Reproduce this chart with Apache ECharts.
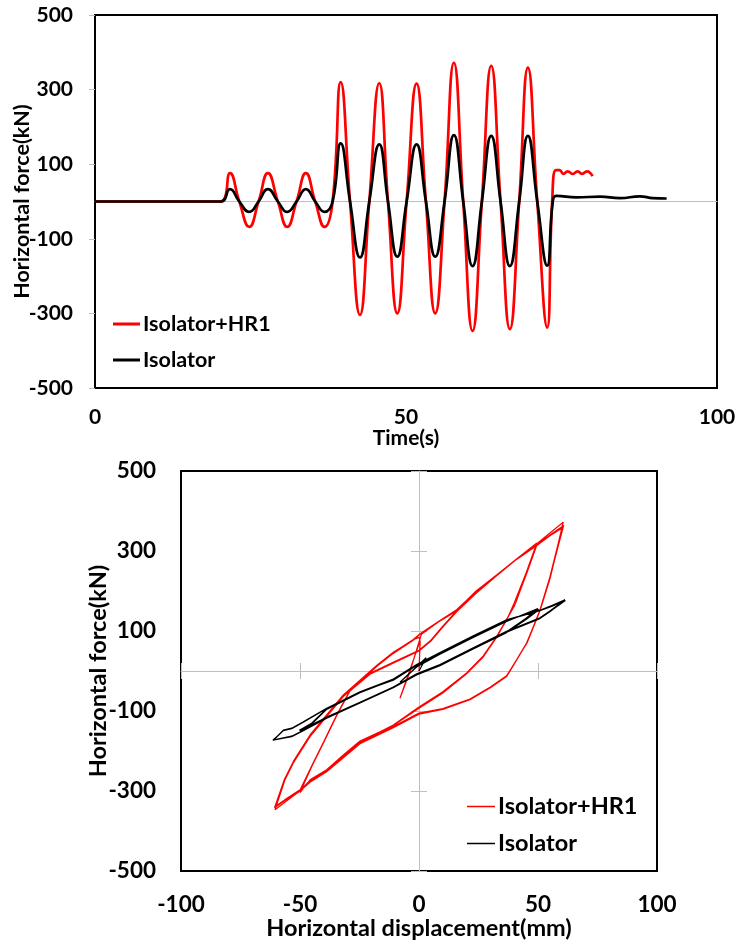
<!DOCTYPE html>
<html>
<head>
<meta charset="utf-8">
<script src="https://cdn.jsdelivr.net/npm/echarts@6/dist/echarts.min.js"></script>
<style>
html,body{margin:0;padding:0;background:#fff;}
#chart{width:737px;height:944px;}
</style>
</head>
<body>
<div id="chart"></div>
<script>
// ---------- Top chart: force time history ----------
const timeRed = [0, 20.2, 21.7, 23.2, 24.8, 26.3, 27.8, 29.4, 30.9, 32.4, 33.9, 35.4, 36.9, 38.2, 39.5, 41.0, 42.6, 44.1, 45.7, 47.1, 48.6, 50.1, 51.7, 53.2, 54.7, 56.2, 57.7, 59.2, 60.7, 62.2, 63.7, 65.2, 66.7, 68.2, 69.6, 71.1, 72.7, 73.5, 74.1, 74.7, 75.3, 76.0, 76.8, 77.6, 78.3, 79.1, 80.0];
const forceRed = [0, 0, 76, 0, -68, 0, 76, 0, -68, 0, 76, 0, -68, 0, 320, 0, -304, 0, 317, 0, -300, 0, 316, 0, -300, 0, 372, 0, -347, 0, 364, 0, -342, 0, 359, 0, -338, 0, 84, 84, 74, 81, 74, 81, 74, 81, 68];
const timeBlack = [0, 20.2, 21.7, 23.2, 24.8, 26.3, 27.8, 29.4, 30.9, 32.4, 33.9, 35.4, 36.9, 38.2, 39.5, 41.0, 42.6, 44.1, 45.7, 47.1, 48.6, 50.1, 51.7, 53.2, 54.7, 56.2, 57.7, 59.2, 60.7, 62.2, 63.7, 65.2, 66.7, 68.2, 69.6, 71.1, 72.7, 73.6, 74.2, 77.4, 81.2, 84.4, 87.6, 89.7, 91.9];
const forceBlack = [0, 0, 33, 0, -28, 0, 33, 0, -28, 0, 33, 0, -28, 0, 156, 0, -150, 0, 153, 0, -148, 0, 153, 0, -148, 0, 178, 0, -173, 0, 176, 0, -173, 0, 176, 0, -172, 0, 15, 11, 13, 9, 14, 9, 8];

// ---------- Bottom chart: hysteresis loops ----------
const dispRed = [
  0, 0.5, -8, 0.5, -8, 0.5, -8,
  -4, 1, 8, 15.8, 24, 32.6, 41, 49.5,
  45, 40, 36.8, 32.6, 27, 20, 10, 0, -10.8, -16.4, -24.8, -31.8, -38.8, -45.8, -50,
  -45, -40, -34.6, -29, -20.6, -10, 0, 5, 10, 15.8, 24, 32.6, 41, 49.4,
  45, 40.5, 36.5, 32.4, 27, 20, 10, 0, -10.8, -16.4, -24.8, -31.8, -38.8, -45.8, -50.2,
  -45, -40, -34.6, -29, -20.6, -10, 0, 5, 10, 15.8, 24, 32.6, 41, 49.6,
  45.2, 40.2, 36.8, 32.8, 27, 20, 10, 0, -10.8, -16.4, -24.8, -31.8, -38.8, -45.8, -50,
  -45, -40, -34.6, -29, -20.6, -10, 0, 5, 10, 15.8, 24, 32.6, 41, 49.5, 55, 60.6,
  58.5, 55, 50.8, 45.2, 41, 36.8, 30, 21.4, 10, 0, -10.8, -24.8, -31.8, -38.8, -45.8, -50, -55, -60.5,
  -56.3, -52.8, -45.8, -38.8, -31.8, -24.8, -17.8, -10.8, -2.4, 0, 8, 15.8, 24, 32.6, 41, 49.4, 55, 60.8,
  58.6, 55, 50.8, 45.4, 41, 36.8, 30, 21.4, 10, 0, -10.8, -24.8, -31.8, -38.8, -45.8, -50, -55, -60.7,
  -56.5, -52.8, -45.8, -38.8, -31.8, -24.8, -17.8, -10.8, -2.4, 0, 8, 15.8, 24, 32.6, 41, 49.4, 55, 60.5,
  58.4, 55, 50.8, 45.2, 41, 36.8, 30, 21.4, 10, 0, -10.8, -24.8, -31.8, -38.8, -45.8, -50, -55, -60.3,
  -56.3, -52.8, -45.8, -38.8, -31.8, -24.8, -17.8, -10.8, -2.4, 0, 0.4, 0, 0.4
];
const hystForceRed = [
  0, 76, -68, 76, -68, 76, -68,
  -5, 92, 122, 150, 196, 238, 280, 320,
  245, 170, 127, 86, 38, -5, -52, -90, -135, -152, -175, -210, -247, -272, -304,
  -238, -178, -112, -50, -8, 22, 50, 75, 110, 148, 194, 238, 279, 317,
  242, 168, 126, 84, 36, -6, -54, -92, -137, -153, -176, -212, -248, -274, -300,
  -236, -176, -110, -48, -6, 24, 52, 77, 112, 150, 195, 239, 280, 316,
  243, 164, 128, 86, 35, -7, -55, -93, -136, -152, -175, -211, -247, -273, -300,
  -236, -176, -110, -48, -6, 24, 52, 77, 112, 150, 195, 239, 280, 318, 345, 372,
  319, 235, 152, 69, 27, -14, -42, -72, -96, -108, -142, -182, -217, -252, -278, -300, -322, -347,
  -272, -230, -164, -114, -64, -27, 11, 44, 77, 90, 122, 152, 200, 240, 280, 315, 340, 364,
  315, 232, 150, 70, 28, -12, -40, -70, -95, -106, -140, -180, -215, -250, -276, -298, -318, -342,
  -270, -228, -162, -112, -62, -25, 13, 46, 79, 91, 123, 153, 199, 239, 279, 313, 338, 359,
  312, 230, 150, 70, 28, -12, -40, -70, -94, -105, -139, -179, -214, -249, -275, -297, -316, -338,
  -268, -226, -160, -110, -60, -23, 14, 47, 78, 84, 77, 84, 78
];
const dispBlack = [
  0, 3, -8, 3, -8, 3, -8,
  -1, 8.8, 22.8, 36.8, 50,
  45, 36.8, 22.8, 8.8, -1, -10.8, -24.8, -38.8, -45, -50,
  -45, -38.8, -24.8, -10.8, -1, 8.8, 22.8, 36.8, 50.2,
  45, 36.8, 22.8, 8.8, -1, -10.8, -24.8, -38.8, -45, -50.3,
  -45, -38.8, -24.8, -10.8, -1, 8.8, 22.8, 36.8, 50.4,
  45, 36.8, 22.8, 8.8, -1, -10.8, -24.8, -38.8, -45, -50.2,
  -45, -38.8, -24.8, -10.8, -1, 8.8, 22.8, 36.8, 50.8, 56, 61.3,
  55, 50.8, 36.8, 22.8, 8.8, -1, -10.8, -24.8, -38.8, -48.6, -53.5, -61.2,
  -57, -53.5, -48.6, -38.8, -24.8, -10.8, -1, 8.8, 22.8, 36.8, 50.8, 56, 61.5,
  55, 50.8, 36.8, 22.8, 8.8, -1, -10.8, -24.8, -38.8, -48.6, -53.5, -61.4,
  -57, -53.5, -48.6, -38.8, -24.8, -10.8, -1, 8.8, 22.8, 36.8, 50.8, 56, 61.2,
  55, 50.8, 36.8, 22.8, 8.8, -1, -10.8, -24.8, -38.8, -48.6, -53.5, -61.0,
  -57, -53.5, -48.6, -38.8, -24.8, -10.8, -2
];
const hystForceBlack = [
  0, 33, -28, 33, -28, 33, -28,
  10, 42, 84, 124, 156,
  132, 98, 57, 15, -8, -40, -78, -115, -135, -150,
  -132, -96, -54, -22, 14, 44, 86, 126, 153,
  130, 97, 56, 14, -9, -41, -79, -116, -134, -148,
  -131, -95, -53, -21, 15, 45, 87, 127, 153,
  129, 96, 55, 13, -10, -42, -80, -117, -135, -148,
  -130, -94, -52, -20, 16, 46, 88, 128, 152, 164, 178,
  150, 133, 99, 58, 16, -7, -40, -78, -116, -148, -163, -173,
  -148, -143, -127, -93, -52, -22, 15, 45, 87, 128, 152, 163, 176,
  149, 132, 98, 57, 15, -8, -41, -79, -117, -149, -164, -173,
  -149, -144, -128, -94, -53, -23, 14, 44, 86, 127, 151, 162, 176,
  148, 131, 97, 56, 14, -9, -42, -80, -118, -149, -163, -172,
  -149, -144, -128, -94, -53, -23, 12
];

const forceTickValues = [-500, -300, -100, 100, 300, 500];
const crossForceTicks = [-500, -300, -100, 100, 300, 500];
const crossDispTicks = [-100, -50, 50, 100];

const zip = (a, b) => a.map((v, i) => [v, b[i]]);

const FONT = 'Lato';
const GREY = '#bfbfbf';
const lbl = (size, margin) => ({ fontFamily: FONT, fontWeight: 'bold', fontSize: size, color: '#000', margin: margin });

const chart = echarts.init(document.getElementById('chart'), null, { renderer: 'canvas' });

chart.setOption({
  animation: false,
  backgroundColor: '#fff',
  grid: [
    { left: 95, top: 15, width: 622, height: 373, show: true, borderColor: '#000', borderWidth: 2, backgroundColor: 'transparent', containLabel: false, outerBoundsMode: 'none' },
    { left: 181, top: 471, width: 476, height: 400, show: true, borderColor: '#000', borderWidth: 2, backgroundColor: 'transparent', containLabel: false, outerBoundsMode: 'none' }
  ],
  xAxis: [
    { // 0 top main
      type: 'value', gridIndex: 0, position: 'bottom', min: 0, max: 100, interval: 50,
      axisLine: { show: false, onZero: false }, axisTick: { show: false }, splitLine: { show: false },
      axisLabel: lbl(21, 19),
      name: 'Time(s)', nameLocation: 'middle', nameGap: 40, nameMoveOverlap: false,
      nameTextStyle: { fontFamily: FONT, fontWeight: 'bold', fontSize: 21, color: '#000', padding: [0, 0, 0, 0] }
    },
    { // 1 top zero line
      type: 'value', gridIndex: 0, position: 'bottom', min: 0, max: 100,
      axisLine: { show: true, onZero: true, onZeroAxisIndex: 0, lineStyle: { color: GREY, width: 1 } },
      axisTick: { show: false }, axisLabel: { show: false }, splitLine: { show: false }
    },
    { // 2 bottom main
      type: 'value', gridIndex: 1, position: 'bottom', min: -100, max: 100, interval: 50,
      axisLine: { show: false, onZero: false }, axisTick: { show: false }, splitLine: { show: false },
      axisLabel: lbl(22.5, 22),
      name: 'Horizontal displacement(mm)', nameLocation: 'middle', nameGap: 45, nameMoveOverlap: false,
      nameTextStyle: { fontFamily: FONT, fontWeight: 'bold', fontSize: 23.5, color: '#000' }
    },
    { // 3 bottom cross line, ticks down
      type: 'value', gridIndex: 1, position: 'bottom', min: -100, max: 100,
      axisLine: { show: true, onZero: true, onZeroAxisIndex: 1, lineStyle: { color: GREY, width: 1 } },
      axisTick: { show: true, customValues: crossDispTicks, length: 8, inside: false, lineStyle: { color: GREY, width: 1 } },
      axisLabel: { show: false }, splitLine: { show: false }
    },
    { // 4 bottom cross line, ticks up
      type: 'value', gridIndex: 1, position: 'bottom', min: -100, max: 100,
      axisLine: { show: false, onZero: true, onZeroAxisIndex: 1 },
      axisTick: { show: true, customValues: crossDispTicks, length: 8, inside: true, lineStyle: { color: GREY, width: 1 } },
      axisLabel: { show: false }, splitLine: { show: false }
    }
  ],
  yAxis: [
    { // 0 top main
      type: 'value', gridIndex: 0, position: 'left', min: -500, max: 500, interval: 100,
      axisLine: { show: true, onZero: false, lineStyle: { color: '#000', width: 2 } },
      axisTick: { show: true, customValues: forceTickValues, length: 6, lineStyle: { color: GREY, width: 1 } },
      splitLine: { show: false },
      axisLabel: Object.assign(lbl(21, 22), { customValues: forceTickValues }),
      name: 'Horizontal force(kN)', nameLocation: 'middle', nameGap: 62, nameMoveOverlap: false,
      nameTextStyle: { fontFamily: FONT, fontWeight: 'bold', fontSize: 21.5, color: '#000' }
    },
    { // 1 bottom main
      type: 'value', gridIndex: 1, position: 'left', min: -500, max: 500, interval: 100,
      axisLine: { show: false, onZero: false }, axisTick: { show: false }, splitLine: { show: false },
      axisLabel: Object.assign(lbl(22.5, 25), { customValues: forceTickValues }),
      name: 'Horizontal force(kN)', nameLocation: 'middle', nameGap: 71, nameMoveOverlap: false,
      nameTextStyle: { fontFamily: FONT, fontWeight: 'bold', fontSize: 23.5, color: '#000' }
    },
    { // 2 bottom cross line, ticks left
      type: 'value', gridIndex: 1, position: 'left', min: -500, max: 500,
      axisLine: { show: true, onZero: true, onZeroAxisIndex: 2, lineStyle: { color: GREY, width: 1 } },
      axisTick: { show: true, customValues: crossForceTicks, length: 8, inside: false, lineStyle: { color: GREY, width: 1 } },
      axisLabel: { show: false }, splitLine: { show: false }
    },
    { // 3 bottom cross line, ticks right
      type: 'value', gridIndex: 1, position: 'left', min: -500, max: 500,
      axisLine: { show: false, onZero: true, onZeroAxisIndex: 2 },
      axisTick: { show: true, customValues: crossForceTicks, length: 8, inside: true, lineStyle: { color: GREY, width: 1 } },
      axisLabel: { show: false }, splitLine: { show: false }
    }
  ],
  legend: [
    {
      orient: 'vertical', left: 113, top: 312, itemWidth: 27, itemHeight: 3, itemGap: 12, padding: 0,
      icon: 'rect', selectedMode: false,
      data: ['Isolator+HR1', 'Isolator'],
      textStyle: { fontFamily: FONT, fontWeight: 'bold', fontSize: 21.5, color: '#000', lineHeight: 24, padding: [0, 0, 0, -2] }
    },
    {
      orient: 'vertical', left: 467, top: 794, itemWidth: 28, itemHeight: 1.5, itemGap: 12, padding: 0,
      icon: 'rect', selectedMode: false,
      data: ['Isolator+HR1', 'Isolator'],
      textStyle: { fontFamily: FONT, fontWeight: 'bold', fontSize: 23.5, color: '#000', lineHeight: 25, padding: [0, 0, 0, -2] }
    }
  ],
  series: [
    {
      name: 'Isolator+HR1', type: 'line', xAxisIndex: 0, yAxisIndex: 0,
      data: zip(timeRed, forceRed), smooth: 0.5, symbol: 'none', z: 3,
      lineStyle: { color: '#ff0000', width: 2.7 }, itemStyle: { color: '#ff0000' }
    },
    {
      name: 'Isolator', type: 'line', xAxisIndex: 0, yAxisIndex: 0,
      data: zip(timeBlack, forceBlack), smooth: 0.5, symbol: 'none', z: 4,
      lineStyle: { color: '#000000', width: 2.7 }, itemStyle: { color: '#000000' }
    },
    {
      name: 'Isolator+HR1', type: 'line', xAxisIndex: 2, yAxisIndex: 1,
      data: zip(dispRed, hystForceRed), smooth: false, symbol: 'none', z: 3,
      lineStyle: { color: '#ff0000', width: 1.2 }, itemStyle: { color: '#ff0000' }
    },
    {
      name: 'Isolator', type: 'line', xAxisIndex: 2, yAxisIndex: 1,
      data: zip(dispBlack, hystForceBlack), smooth: false, symbol: 'none', z: 4,
      lineStyle: { color: '#000000', width: 1.2 }, itemStyle: { color: '#000000' }
    }
  ]
});
</script>
</body>
</html>
